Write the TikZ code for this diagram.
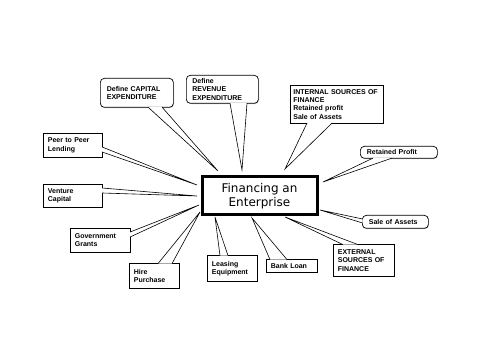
\documentclass[tikz,border=0pt]{standalone}
\usepackage{fontspec}
\usepackage{tikz}
\usetikzlibrary{shadows}
\newfontfamily\labelfont{Liberation Sans}
\newfontfamily\titlefont{DejaVu Sans}

\tikzset{
  tag/.style={draw, fill=white, line width=0.7pt, anchor=north west,
    align=left, inner xsep=4.5pt, inner ysep=1.5pt,
    font=\labelfont\bfseries\fontsize{7}{8.3}\selectfont,
    drop shadow={shadow xshift=0.7pt, shadow yshift=-0.7pt, fill=black!45}},
  bubble/.style={tag, rounded corners=4pt, inner xsep=6.5pt},
  pointer/.style={fill=white, draw=black, line width=0.6pt, line join=miter},
  centrebox/.style={draw, fill=white, line width=3pt, align=center,
    minimum width=115pt, minimum height=38pt,
    font=\titlefont\fontsize{12}{14}\selectfont}
}

\begin{document}
\begin{tikzpicture}[x=1pt, y=1pt]
    \useasboundingbox (0,0) rectangle (500,353);

    % Central topic
    \node[centrebox] (fin) at (259.5,157) {Financing an\\Enterprise};

    % Tips of the callouts, around the central box
    \coordinate (tcap)  at (218,182);
    \coordinate (trev)  at (242,183);
    \coordinate (tint)  at (285,184);
    \coordinate (tret)  at (323,171);
    \coordinate (tpeer) at (197,168);
    \coordinate (tvent) at (197,157);
    \coordinate (tgov)  at (199,148);
    \coordinate (thire) at (200,141);
    \coordinate (tleas) at (215,136);
    \coordinate (tbank) at (252,135);
    \coordinate (tpext) at (285,136);
    \coordinate (tsale) at (320,143);

    % Callout boxes
    \node[bubble, text width=60pt, minimum height=29pt] (cap) at (100,275) {Define CAPITAL\\EXPENDITURE};
    \node[bubble, text width=60pt, minimum height=28pt, inner xsep=6pt] (rev) at (186,278) {Define\\REVENUE\\EXPENDITURE};
    \node[tag, text width=87pt, minimum height=38pt, inner xsep=3pt] (int) at (290,268) {INTERNAL SOURCES OF\\FINANCE\\Retained profit\\Sale of Assets};
    \node[bubble, text width=64pt, minimum height=12pt] (ret) at (360,207) {Retained Profit};
    \node[tag, text width=50pt, minimum height=24pt] (peer) at (43,220) {Peer to Peer\\Lending};
    \node[tag, text width=50pt, minimum height=23pt] (vent) at (43,169) {Venture\\Capital};
    \node[tag, text width=51pt, minimum height=24pt] (gov) at (70,125) {Government\\Grants};
    \node[tag, text width=41pt, minimum height=25pt] (hire) at (129,90) {Hire\\Purchase};
    \node[tag, text width=41pt, minimum height=26pt] (leas) at (207,98) {Leasing\\Equipment};
    \node[tag, text width=42pt, minimum height=13pt] (bank) at (266,94) {Bank Loan};
    \node[tag, text width=52pt, minimum height=32pt] (ext) at (333,109) {EXTERNAL\\SOURCES OF\\FINANCE};
    \node[bubble, text width=53pt, minimum height=13pt] (sale) at (362,138) {Sale of Assets};

    % Pointers from the boxes to the central topic
    \filldraw[pointer] ([xshift=48pt,yshift=.6pt]cap.south west) -- (tcap) -- ([xshift=62pt,yshift=.6pt]cap.south west);
    \filldraw[pointer] ([xshift=44pt,yshift=.6pt]rev.south west) -- (trev) -- ([xshift=61pt,yshift=.6pt]rev.south west);
    \filldraw[pointer] ([xshift=17pt,yshift=.6pt]int.south west) -- (tint) -- ([xshift=42pt,yshift=.6pt]int.south west);
    \filldraw[pointer] ([xshift=13pt,yshift=.6pt]ret.south west) -- (tret) -- ([xshift=32pt,yshift=.6pt]ret.south west);
    \filldraw[pointer] ([xshift=-.6pt,yshift=-14pt]peer.north east) -- (tpeer) -- ([xshift=-.6pt,yshift=-19pt]peer.north east);
    \filldraw[pointer] ([xshift=-.6pt,yshift=-4pt]vent.north east) -- (tvent) -- ([xshift=-.6pt,yshift=-9pt]vent.north east);
    \filldraw[pointer] ([xshift=-.6pt,yshift=-4pt]gov.north east) -- (tgov) -- ([xshift=-.6pt,yshift=-9pt]gov.north east);
    \filldraw[pointer] ([xshift=29pt,yshift=-.6pt]hire.north west) -- (thire) -- ([xshift=43pt,yshift=-.6pt]hire.north west);
    \filldraw[pointer] ([xshift=13pt,yshift=-.6pt]leas.north west) -- (tleas) -- ([xshift=21pt,yshift=-.6pt]leas.north west);
    \filldraw[pointer] ([xshift=4pt,yshift=-.6pt]bank.north west) -- (tbank) -- ([xshift=21pt,yshift=-.6pt]bank.north west);
    \filldraw[pointer] ([xshift=10pt,yshift=-.6pt]ext.north west) -- (tpext) -- ([xshift=25pt,yshift=-.6pt]ext.north west);
    \filldraw[pointer] ([xshift=.6pt,yshift=-4pt]sale.north west) -- (tsale) -- ([xshift=.6pt,yshift=-8pt]sale.north west);
\end{tikzpicture}
\end{document}
